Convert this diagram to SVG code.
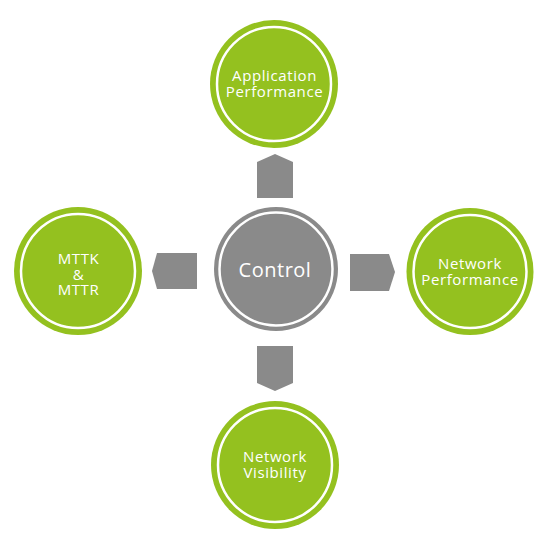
<svg xmlns="http://www.w3.org/2000/svg" width="544" height="544" viewBox="0 0 544 544">
<style>
.g{fill:#94c11f}
.gr{fill:#8a8a8a}
.ring{fill:none;stroke:#ffffff;stroke-width:2.5}
.t{font-family:"Open Sans","Liberation Sans",sans-serif;fill:#ffffff;text-anchor:middle;font-size:15px;letter-spacing:0.6px}
.c{font-size:20px;letter-spacing:0.5px}
.arr{fill:#8a8a8a}
</style>
<rect width="544" height="544" fill="#ffffff"/>
<g id="connectors">
<polygon class="arr" points="257,162 275,154 293,162 293,198 257,198"/>
<polygon class="arr" points="257,346 293,346 293,383 275,391 257,383"/>
<polygon class="arr" points="157,253 197,253 197,289 157,289 152,271"/>
<polygon class="arr" points="350,254 389,254 395,272 389,291 350,291"/>
</g>
<g id="control">
<circle class="gr" cx="276" cy="269" r="62"/>
<circle class="ring" cx="276" cy="269" r="56.5"/>
<text class="t c" x="275" y="277">Control</text>
</g>
<g id="application-performance">
<circle class="g" cx="274" cy="84" r="64"/>
<circle class="ring" cx="274" cy="84" r="57"/>
<text class="t" x="274.5" y="81">Application</text>
<text class="t" x="274.5" y="97">Performance</text>
</g>
<g id="mttk-mttr">
<circle class="g" cx="78" cy="271" r="64"/>
<circle class="ring" cx="78" cy="271" r="57"/>
<text class="t" x="78.5" y="264">MTTK</text>
<text class="t" x="78.5" y="279.5">&amp;</text>
<text class="t" x="78.5" y="295">MTTR</text>
</g>
<g id="network-performance">
<circle class="g" cx="470" cy="271.5" r="63.5"/>
<circle class="ring" cx="470" cy="271.5" r="56.5"/>
<text class="t" x="470" y="269">Network</text>
<text class="t" x="470" y="285">Performance</text>
</g>
<g id="network-visibility">
<circle class="g" cx="275" cy="465" r="64"/>
<circle class="ring" cx="275" cy="465" r="57"/>
<text class="t" x="275" y="462">Network</text>
<text class="t" x="275" y="478">Visibility</text>
</g>
</svg>
